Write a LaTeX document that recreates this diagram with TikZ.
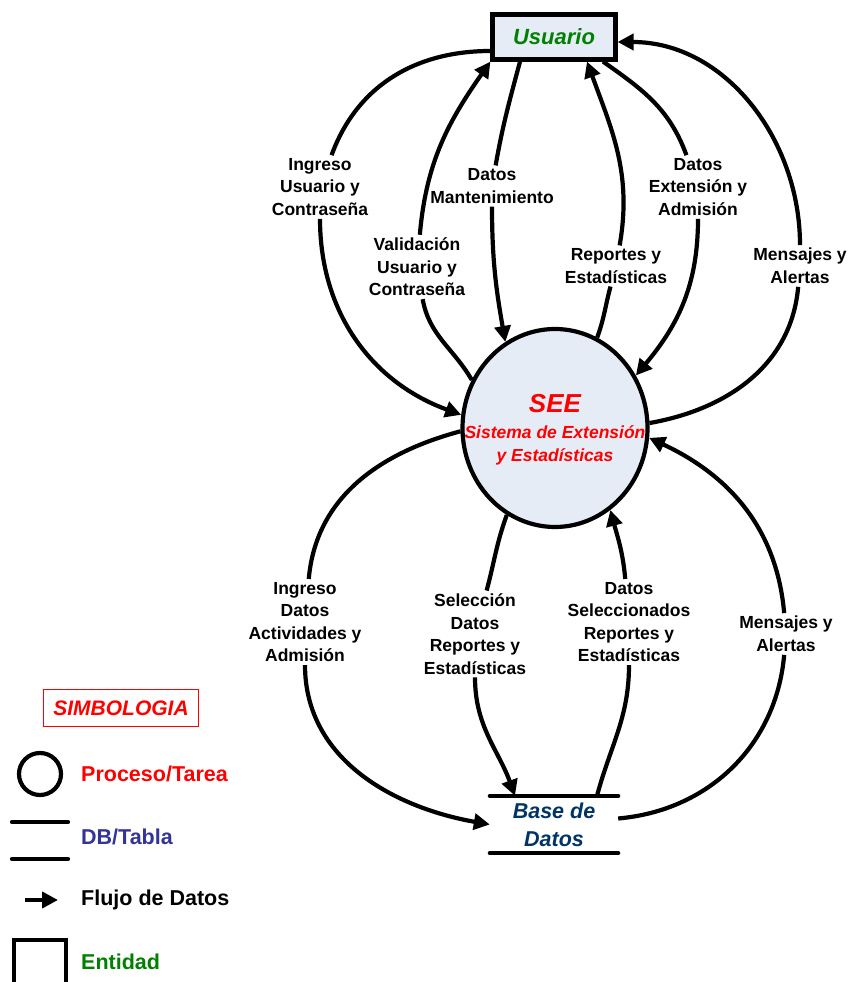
\documentclass[tikz,border=0pt]{standalone}
\usepackage{fontspec}
\setmainfont{Liberation Sans}
\usetikzlibrary{shapes.geometric,arrows.meta}

\definecolor{procfill}{RGB}{230,236,246}
\definecolor{entverde}{RGB}{0,128,0}
\definecolor{dbazul}{RGB}{0,51,102}
\definecolor{tablaazul}{RGB}{51,51,153}

\tikzset{
  entidad/.style={draw, line width=4.2pt, fill=procfill, minimum width=123pt,
    minimum height=45pt, text=entverde, font=\fontsize{22}{26}\selectfont\bfseries\itshape},
  proceso/.style={ellipse, draw, line width=4.2pt, fill=procfill,
    minimum width=185pt, minimum height=198pt, inner sep=0pt},
  proctexto/.style={align=center, text=red, font=\fontsize{17.5}{23}\selectfont\bfseries\itshape},
  almacen/.style={minimum width=128pt, minimum height=57pt, align=center, text=dbazul,
    font=\fontsize{21.5}{28}\selectfont\bfseries\itshape},
  etiqueta/.style={align=center, inner sep=3pt, font=\fontsize{17.5}{22.5}\selectfont\bfseries},
  flujo/.style={line width=4.2pt, -{Triangle[length=16pt,width=16pt]}},
  leyenda/.style={anchor=west, inner sep=0pt, font=\fontsize{21.5}{25}\selectfont\bfseries}
}

\begin{document}
\begin{tikzpicture}[x=1pt, y=1pt]
    \useasboundingbox (0,0) rectangle (851,982);

    % Entity, process and store
    \node[entidad] (usuario) at (554,945) {Usuario};
    \node[proceso] (see) at (555,554) {};
    \node[proctexto] (seetxt) at (555,552) {{\fontsize{26}{30}\selectfont SEE}\\[3pt]Sistema de Extensión\\y Estadísticas};
    \node[almacen] (bd) at (554,157.5) {Base de\\Datos};
    \draw[line width=4.2pt, line cap=round] (bd.north west) -- (bd.north east);
    \draw[line width=4.2pt, line cap=round] (bd.south west) -- (bd.south east);

    % Flow labels (upper half)
    \node[etiqueta] (lblA) at (320,795) {Ingreso\\Usuario y\\Contraseña};
    \node[etiqueta] (lblB) at (417,715) {Validación\\Usuario y\\Contraseña};
    \node[etiqueta] (lblC) at (492,796) {Datos\\Mantenimiento};
    \node[etiqueta] (lblD) at (616,716) {Reportes y\\Estadísticas};
    \node[etiqueta] (lblE) at (698,795) {Datos\\Extensión y\\Admisión};
    \node[etiqueta] (lblF) at (800,716) {Mensajes y\\Alertas};

    % Flow labels (lower half)
    \node[etiqueta] (lblG) at (305,360) {Ingreso\\Datos\\Actividades y\\Admisión};
    \node[etiqueta] (lblH) at (475,348) {Selección\\Datos\\Reportes y\\Estadísticas};
    \node[etiqueta] (lblI) at (629,360) {Datos\\Seleccionados\\Reportes y\\Estadísticas};
    \node[etiqueta] (lblJ) at (786,348) {Mensajes y\\Alertas};

    % Flows between Usuario and SEE
    \draw[flujo] ([yshift=-14pt]usuario.west) to[out=180, in=70] (lblA) to[out=-90, in=160] (see.172);
    \draw[flujo] (see.150) to[out=120, in=-80] (lblB) to[out=85, in=-125] (usuario.south west);
    \draw[flujo] ([xshift=-34pt]usuario.south) to[out=-105, in=80] (lblC) to[out=-90, in=100] (see.120);
    \draw[flujo] (see.65) to[out=70, in=-105] (lblD) to[out=80, in=-70] ([xshift=33pt]usuario.south);
    \draw[flujo] ([xshift=49pt]usuario.south) to[out=-35, in=110] (lblE) to[out=-90, in=50] (see.33);
    \draw[flujo] (see.3) to[out=10, in=-95] (lblF) to[out=90, in=0] ([yshift=-5pt]usuario.east);

    % Flows between SEE and Base de Datos
    \draw[flujo] (see.182) to[out=195, in=85] (lblG) to[out=-90, in=170] (bd.west);
    \draw[flujo] (see.241) to[out=-110, in=75] (lblH) to[out=-90, in=110] ([xshift=-39pt]bd.north);
    \draw[flujo] ([xshift=43pt]bd.north) to[out=75, in=-90] (lblI) to[out=95, in=-75] (see.304);
    \draw[flujo] ([yshift=6pt]bd.east) to[out=5, in=-95] (lblJ) to[out=95, in=-25] (see.354);

    % Legend
    \node[draw=red, line width=1pt, minimum width=155pt, minimum height=37pt, text=red,
      font=\fontsize{21}{25}\selectfont\bfseries\itshape] (simb) at (121,274) {SIMBOLOGIA};
    \node[circle, draw, line width=4.2pt, minimum size=42pt] (legproc) at (40,208) {};
    \node[leyenda, text=red] (txtproc) at (81,208) {Proceso/Tarea};
    \draw[line width=4.2pt, line cap=round] (12,160) -- (68,160);
    \draw[line width=4.2pt, line cap=round] (12,123) -- (68,123);
    \node[leyenda, text=tablaazul] (txtdb) at (81,145) {DB/Tabla};
    \coordinate (flA) at (25,82);
    \coordinate (flB) at (58,82);
    \draw[flujo] (flA) -- (flB);
    \node[leyenda] (txtflujo) at (81,82) {Flujo de Datos};
    \draw[line width=4.2pt] (14,-5) -- (14,42) -- (66,42) -- (66,-5);
    \node[leyenda, text=entverde] (txtent) at (81,20) {Entidad};
\end{tikzpicture}
\end{document}
